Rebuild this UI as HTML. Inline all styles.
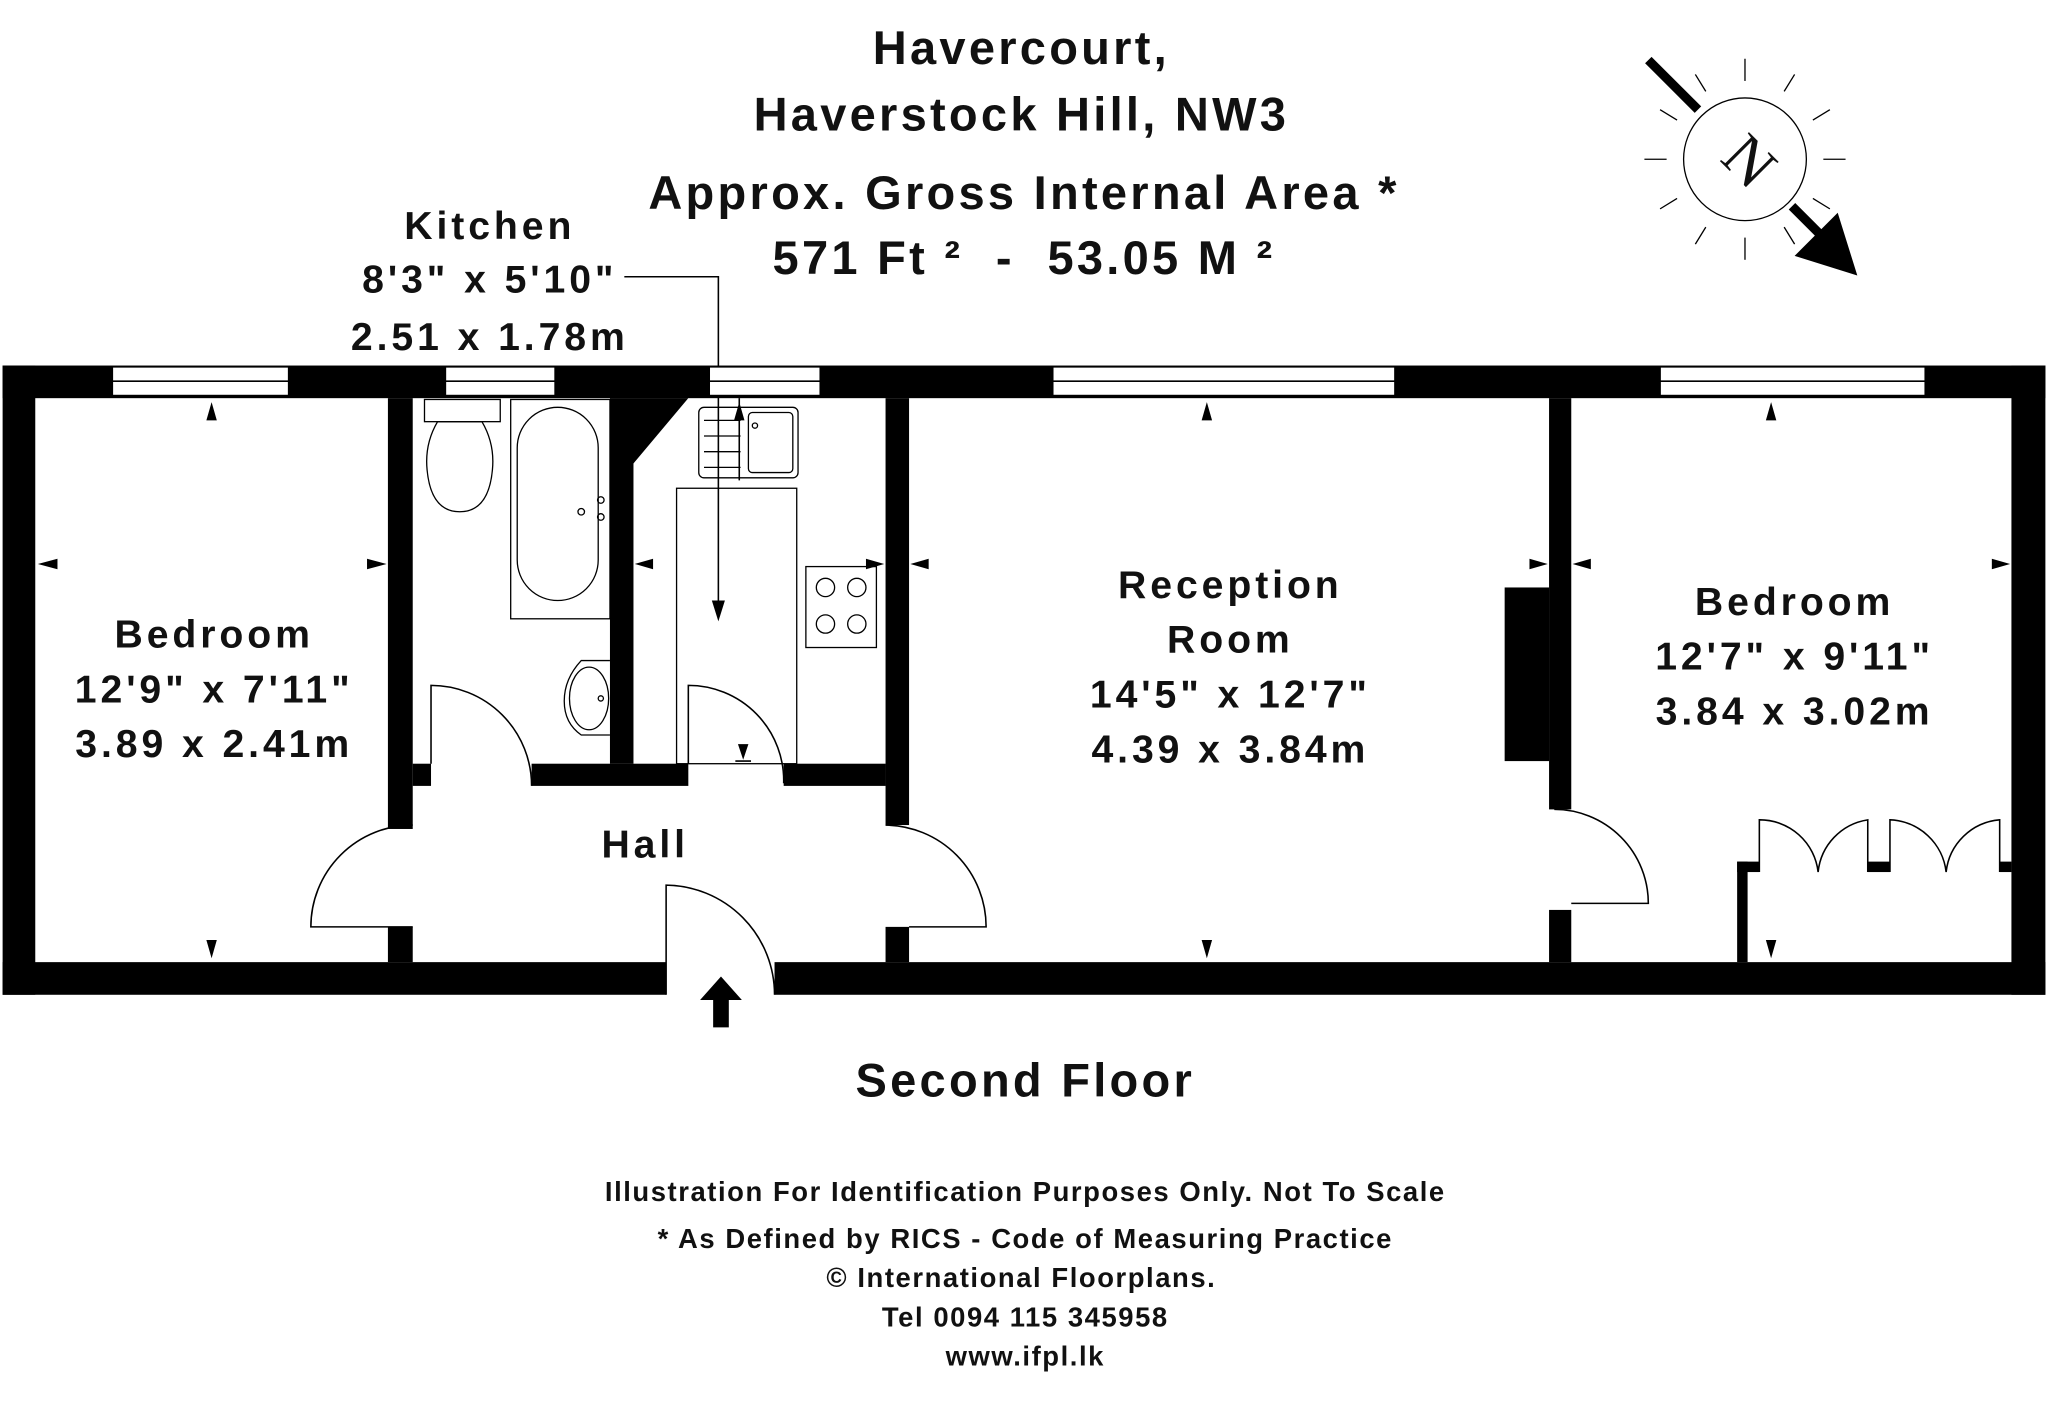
<!DOCTYPE html>
<html><head><meta charset="utf-8"><style>
html,body{margin:0;padding:0;background:#fff;}
svg{display:block;}
text{font-family:"Liberation Sans","DejaVu Sans",sans-serif;fill:#111;text-anchor:middle;}
.t{letter-spacing:2.5px}
.r{letter-spacing:3px}
.f{letter-spacing:1.2px}
</style></head><body>
<svg width="2048" height="1406" viewBox="0 0 1568 1077" preserveAspectRatio="none" xmlns="http://www.w3.org/2000/svg">
<rect width="1568" height="1077" fill="#fff"/>
<g font-weight="bold">
<text class="t" x="782" y="49" font-size="36">Havercourt,</text>
<text class="t" x="782" y="100" font-size="36">Haverstock Hill, NW3</text>
<text class="t" x="784" y="160" font-size="36">Approx. Gross Internal Area *</text>
<text class="t" x="784" y="210" font-size="36">571 Ft ² &#160;- &#160;53.05 M ²</text>
<text class="r" x="375" y="183" font-size="30">Kitchen</text>
<text class="r" x="375" y="224" font-size="30">8'3" x 5'10"</text>
<text class="r" x="375" y="268" font-size="30">2.51 x 1.78m</text>
<text class="r" x="164" y="496" font-size="30">Bedroom</text>
<text class="r" x="164" y="538" font-size="30">12'9" x 7'11"</text>
<text class="r" x="164" y="580" font-size="30">3.89 x 2.41m</text>
<text class="r" x="494" y="657" font-size="30">Hall</text>
<text class="r" x="942" y="458" font-size="30">Reception</text>
<text class="r" x="942" y="500" font-size="30">Room</text>
<text class="r" x="942" y="542" font-size="30">14'5" x 12'7"</text>
<text class="r" x="942" y="584" font-size="30">4.39 x 3.84m</text>
<text class="r" x="1374" y="471" font-size="30">Bedroom</text>
<text class="r" x="1374" y="513" font-size="30">12'7" x 9'11"</text>
<text class="r" x="1374" y="555" font-size="30">3.84 x 3.02m</text>
<text class="t" x="785" y="840" font-size="36">Second Floor</text>
<text class="f" x="785" y="920" font-size="21">Illustration For Identification Purposes Only. Not To Scale</text>
<text class="f" x="785" y="956" font-size="21">* As Defined by RICS - Code of Measuring Practice</text>
<text class="f" x="782" y="986" font-size="21">© International Floorplans.</text>
<text class="f" x="785" y="1016" font-size="21">Tel 0094 115 345958</text>
<text class="f" x="785" y="1046" font-size="21">www.ifpl.lk</text>
</g>
<polyline points="478,212 550,212 550,462" fill="none" stroke="#000" stroke-width="1.2"/>
<polygon points="545,460 555,460 550,476" fill="#000"/>
<g fill="#000">
<rect x="2" y="280" width="1564" height="25"/>
<rect x="2" y="280" width="25" height="482"/>
<rect x="1540" y="280" width="26" height="482"/>
<rect x="2" y="737" width="508" height="25"/>
<rect x="593" y="737" width="973" height="25"/>
<rect x="297" y="305" width="19" height="330"/>
<rect x="297" y="710" width="19" height="27"/>
<polygon points="467,305 527,305 485,355 485,585 467,585"/>
<rect x="678" y="305" width="18" height="327"/>
<rect x="678" y="710" width="18" height="27"/>
<rect x="316" y="585" width="14" height="17"/>
<rect x="407" y="585" width="120" height="17"/>
<rect x="600" y="585" width="78" height="17"/>
<rect x="1186" y="305" width="17" height="315"/>
<rect x="1186" y="697" width="17" height="40"/>
<rect x="1152" y="450" width="34" height="133"/>
<rect x="1330" y="660" width="8" height="77"/>
<rect x="1330" y="660" width="17" height="8"/>
<rect x="1430" y="660" width="17" height="8"/>
<rect x="1531" y="660" width="9" height="8"/>
</g>
<g fill="#fff" stroke="#000" stroke-width="1.2">
<rect x="86" y="281" width="135" height="22"/>
<rect x="341" y="281" width="84" height="22"/>
<rect x="543" y="281" width="85" height="22"/>
<rect x="806" y="281" width="262" height="22"/>
<rect x="1271" y="281" width="203" height="22"/>
</g>
<g stroke="#000" stroke-width="1.2">
<line x1="86" y1="292" x2="221" y2="292"/><line x1="341" y1="292" x2="425" y2="292"/>
<line x1="543" y1="292" x2="628" y2="292"/><line x1="806" y1="292" x2="1068" y2="292"/>
<line x1="1271" y1="292" x2="1474" y2="292"/>
</g>
<g fill="none" stroke="#000" stroke-width="1.2">
<path d="M330,585 V525 A77,77 0 0 1 407,602"/>
<path d="M527,585 V525 A73,73 0 0 1 600,600"/>
<path d="M316,710 H238 A78,78 0 0 1 316,632"/>
<path d="M696,710 H755 A78,78 0 0 0 678,632"/>
<path d="M1203,692 H1262 A72,72 0 0 0 1190,620"/>
<path d="M510,762 V678 A84,84 0 0 1 593,762"/>
<path d="M1347,668 V628 A45,45 0 0 1 1392,668 A45,45 0 0 1 1430,628 V668"/>
<path d="M1447,668 V628 A45,45 0 0 1 1490,668 A45,45 0 0 1 1531,628 V668"/>
</g>
<polygon points="552,748 568,766 558,766 558,787 546,787 546,766 536,766" fill="#000"/>
<g fill="none" stroke="#000" stroke-width="1">
<rect x="325" y="306" width="58" height="17"/>
<path d="M335,323 Q325,340 327,360 Q330,392 352,392 Q374,392 377,360 Q379,340 369,323 Z"/>
<rect x="391" y="306" width="76" height="168"/>
<rect x="396" y="312" width="62" height="148" rx="31"/>
<circle cx="445" cy="392" r="2.5"/><circle cx="460" cy="383" r="2.5"/><circle cx="460" cy="396" r="2.5"/>
<path d="M467,506 H445 Q432,520 432,537 Q432,554 445,563 H467"/>
<ellipse cx="451" cy="535" rx="15" ry="24"/>
<circle cx="460" cy="535" r="2"/>
<rect x="535" y="312" width="76" height="54" rx="4"/>
<rect x="573" y="316" width="34" height="46" rx="3"/>
<circle cx="578" cy="326" r="2"/>
<line x1="539" y1="322" x2="567" y2="322"/><line x1="539" y1="334" x2="567" y2="334"/><line x1="539" y1="346" x2="567" y2="346"/><line x1="539" y1="358" x2="567" y2="358"/>
<rect x="518" y="374" width="92" height="211"/>
<rect x="617" y="434" width="54" height="62"/>
<circle cx="632" cy="450" r="7"/><circle cx="656" cy="450" r="7"/><circle cx="632" cy="478" r="7"/><circle cx="656" cy="478" r="7"/>
<line x1="566" y1="305" x2="566" y2="368" stroke-width="1.2"/>
</g>
<g fill="#000">
<polygon points="162,308 158,322 166,322"/><polygon points="162,734 158,720 166,720"/>
<polygon points="29,432 44,428 44,436"/><polygon points="296,432 281,428 281,436"/>
<polygon points="486,432 500,428 500,436"/><polygon points="677,432 663,428 663,436"/>
<polygon points="697,432 711,428 711,436"/><polygon points="1185,432 1171,428 1171,436"/>
<polygon points="1204,432 1218,428 1218,436"/><polygon points="1539,432 1525,428 1525,436"/>
<polygon points="924,308 920,322 928,322"/><polygon points="924,734 920,720 928,720"/>
<polygon points="1356,308 1352,322 1360,322"/><polygon points="1356,734 1352,720 1360,720"/>
<polygon points="566,308 562,322 570,322"/>
<polygon points="569,582 565,570 573,570"/>
</g>
<line x1="563" y1="583" x2="575" y2="583" stroke="#000" stroke-width="1.2"/>
<g stroke="#000" fill="none" stroke-width="1">
<circle cx="1336" cy="122" r="47"/>
<line x1="1336" y1="62" x2="1336" y2="45"/><line x1="1336" y1="182" x2="1336" y2="199"/>
<line x1="1276" y1="122" x2="1259" y2="122"/><line x1="1396" y1="122" x2="1413" y2="122"/>
<line x1="1366" y1="70" x2="1374" y2="57"/><line x1="1306" y1="174" x2="1298" y2="187"/>
<line x1="1388" y1="92" x2="1401" y2="84"/><line x1="1284" y1="152" x2="1271" y2="160"/>
<line x1="1306" y1="70" x2="1298" y2="57"/><line x1="1366" y1="174" x2="1374" y2="187"/>
<line x1="1284" y1="92" x2="1271" y2="84"/><line x1="1388" y1="152" x2="1401" y2="160"/>
</g>
<line x1="1262" y1="46" x2="1300" y2="84" stroke="#000" stroke-width="7"/>
<line x1="1372" y1="158" x2="1398" y2="184" stroke="#000" stroke-width="7"/>
<polygon points="1422,211 1374,196 1407,163" fill="#000"/>
<text x="1340" y="138" font-size="48" transform="rotate(45 1338 122)" style="font-family:'Liberation Serif',serif">N</text>
</svg>
</body></html>
